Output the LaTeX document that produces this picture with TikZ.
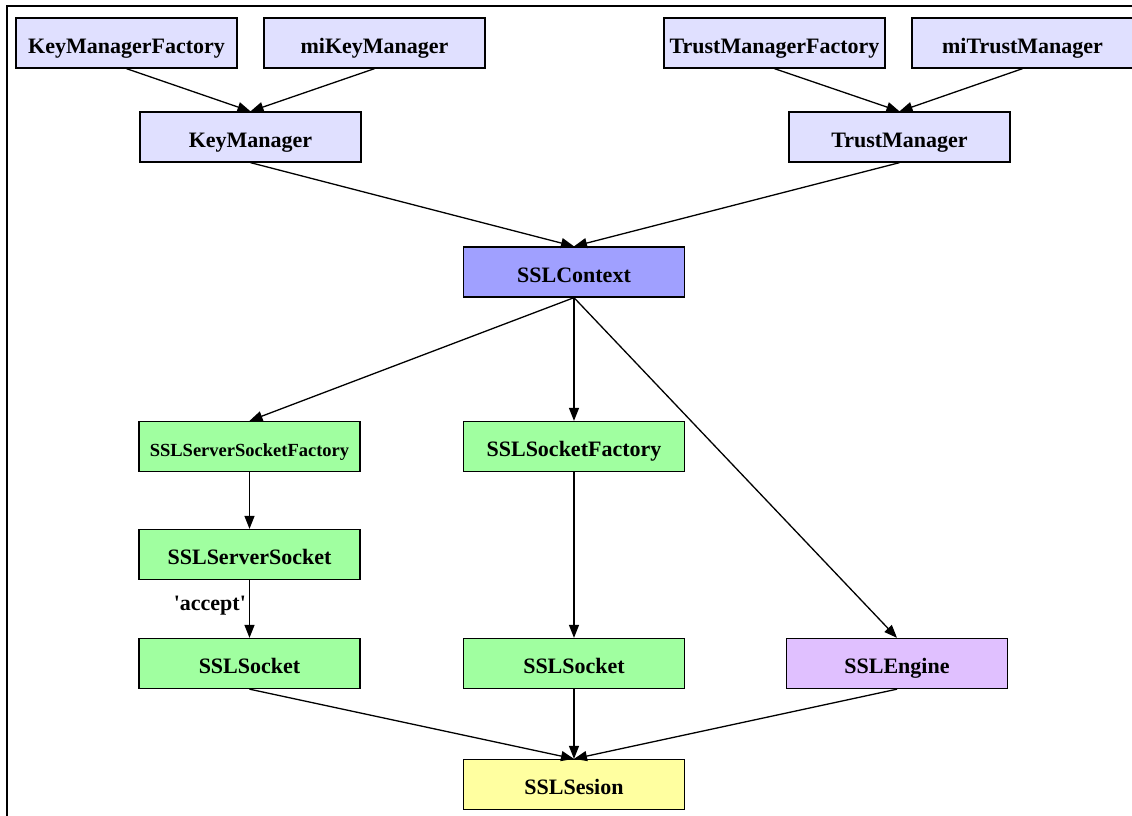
\documentclass[tikz,border=0pt]{standalone}
\usepackage{fontspec}
\setmainfont{Liberation Serif}
\usetikzlibrary{arrows.meta}

\definecolor{mgrfill}{HTML}{E0E0FF}
\definecolor{ctxfill}{HTML}{A0A0FF}
\definecolor{sockfill}{HTML}{A0FFA0}
\definecolor{engfill}{HTML}{E0C0FF}
\definecolor{sessfill}{HTML}{FFFFA0}

\tikzset{
  box/.style={draw=black, line width=1.3pt, minimum width=221pt, minimum height=50pt,
    inner sep=0pt, text height=22pt, text depth=2pt,
    font=\fontsize{22}{25}\selectfont\bfseries},
  mgr/.style={box, fill=mgrfill},
  ctx/.style={box, fill=ctxfill},
  sock/.style={box, fill=sockfill},
  eng/.style={box, fill=engfill},
  sess/.style={box, fill=sessfill},
  link/.style={line width=1.3pt, -{Triangle[length=13pt,width=10pt]}},
  lbl/.style={inner sep=0pt, font=\fontsize{22}{25}\selectfont\bfseries}
}

\begin{document}
\begin{tikzpicture}[x=1pt, y=-1pt]
  \useasboundingbox (0,0) rectangle (1132,816);
  % frame
  \draw[line width=2pt] (6.5,816) -- (6.5,6.5) -- (1132,6.5);

  % key and trust sources
  \node[mgr] (kmf) at (126.5,43) {KeyManagerFactory};
  \node[mgr] (mikm) at (374.5,43) {miKeyManager};
  \node[mgr] (tmf) at (774.5,43) {TrustManagerFactory};
  \node[mgr] (mitm) at (1022.5,43) {miTrustManager};

  % managers
  \node[mgr] (km) at (250.5,137) {KeyManager};
  \node[mgr] (tm) at (899.5,137) {TrustManager};

  % context
  \node[ctx] (ctx) at (574,272) {SSLContext};

  % factories
  \node[sock, font=\fontsize{18.5}{21}\selectfont\bfseries, text height=20pt, text depth=1pt] (ssf) at (249.5,446.5) {SSLServerSocketFactory};
  \node[sock] (sf) at (574,446.5) {SSLSocketFactory};

  % sockets and engine
  \node[sock] (ss) at (249.5,554.5) {SSLServerSocket};
  \node[sock] (s1) at (249.5,663.5) {SSLSocket};
  \node[sock] (s2) at (574,663.5) {SSLSocket};
  \node[eng] (eng) at (897,663.5) {SSLEngine};

  % session
  \node[sess] (sess) at (574,784.5) {SSLSesion};

  % connectors
  \draw[link] (kmf.south) -- (km.north);
  \draw[link] (mikm.south) -- (km.north);
  \draw[link] (tmf.south) -- (tm.north);
  \draw[link] (mitm.south) -- (tm.north);
  \draw[link] (km.south) -- (ctx.north);
  \draw[link] (tm.south) -- (ctx.north);
  \draw[link] (ctx.south) -- (ssf.north);
  \draw[link] (ctx.south) -- (sf.north);
  \draw[link] (ctx.south) -- (eng.north);
  \draw[link] (ssf.south) -- (ss.north);
  \draw[link] (ss.south) -- node[lbl, left=3pt, pos=0.45] (acc) {\textquotesingle accept\textquotesingle} (s1.north);
  \draw[link] (sf.south) -- (s2.north);
  \draw[link] (s1.south) -- (sess.north);
  \draw[link] (s2.south) -- (sess.north);
  \draw[link] (eng.south) -- (sess.north);
\end{tikzpicture}
\end{document}
